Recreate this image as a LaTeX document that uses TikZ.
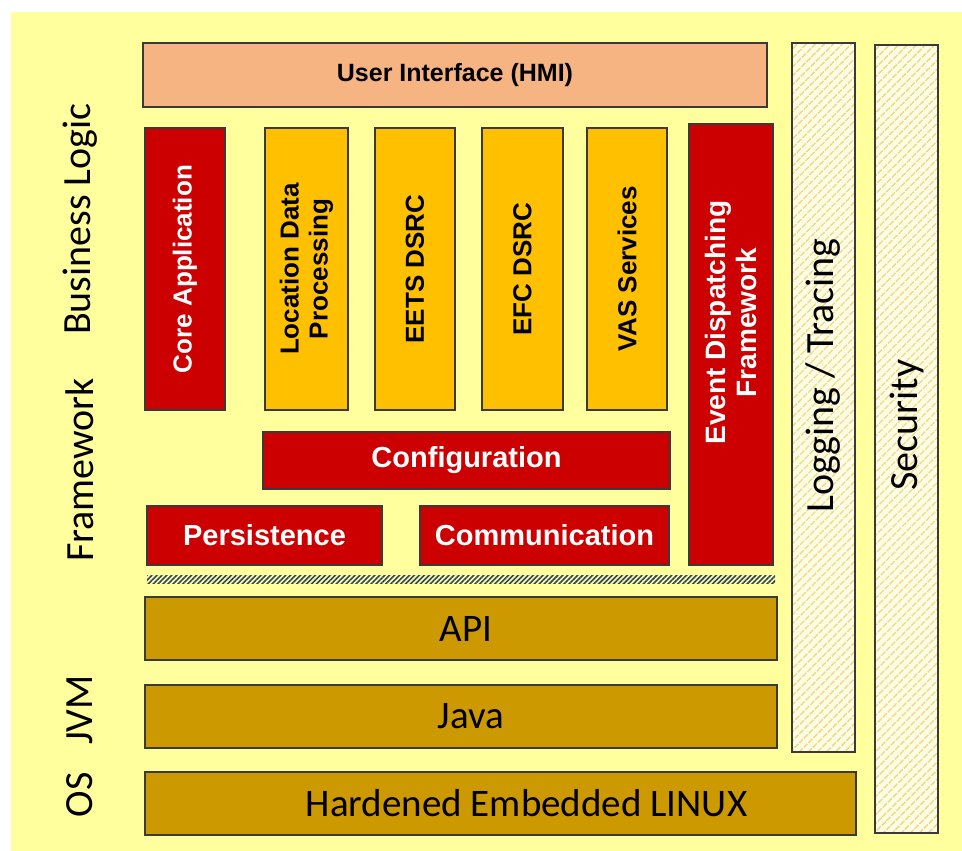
\documentclass[tikz,border=0pt]{standalone}
\usepackage{fontspec}
\setmainfont{Carlito}
\newfontfamily\arialfont{Liberation Sans}
\usetikzlibrary{patterns.meta}
\definecolor{bgyellow}{HTML}{FFFF9E}
\definecolor{hmiorange}{HTML}{F6B482}
\definecolor{corered}{HTML}{CC0000}
\definecolor{appamber}{HTML}{FFC000}
\definecolor{basegold}{HTML}{CC9900}
\definecolor{boxline}{HTML}{3A3A3A}
\definecolor{hatchbg}{HTML}{FFFCE6}
\definecolor{hatchline}{HTML}{EEDA80}
\definecolor{sepline}{HTML}{2F4466}
\tikzset{
    layer box/.style = {draw=boxline, line width=1.2pt, inner sep=0pt, align=center},
    red box/.style = {layer box, fill=corered, text=white, font=\arialfont\bfseries\fontsize{29}{29}\selectfont},
    red vbox/.style = {layer box, fill=corered, text=white, rotate=90, font=\arialfont\bfseries\fontsize{26}{29}\selectfont},
    app vbox/.style = {layer box, fill=appamber, rotate=90, font=\arialfont\bfseries\fontsize{26}{29}\selectfont},
    base box/.style = {layer box, fill=basegold, font=\fontsize{39}{39}\selectfont},
    side box/.style = {layer box, rotate=90, preaction={fill=hatchbg},
        pattern={Lines[angle=45, distance=6.5pt, line width=1.8pt]}, pattern color=hatchline,
        font=\fontsize{40}{40}\selectfont},
    layer label/.style = {rotate=90, font=\fontsize{40}{40}\selectfont},
}

\begin{document}
\begin{tikzpicture}[x=1pt, y=-1pt]
    \useasboundingbox (0,0) rectangle (962,851);
    \fill[bgyellow] (11,12) rectangle (962,851);

    % layer names on the left
    \node[layer label] (bl) at (80,219) {Business Logic};
    \node[layer label] (fw) at (80,470) {Framework};
    \node[layer label] (jvm) at (80,710) {JVM};
    \node[layer label] (os) at (80,795) {OS};

    % business logic
    \node[layer box, fill=hmiorange, minimum width=624pt, minimum height=64pt,
          font=\arialfont\bfseries\fontsize{25}{25}\selectfont] (hmi) at (455,75) {User Interface (HMI)};
    \node[red vbox, minimum width=282pt, minimum height=80pt] (core) at (185,269) {Core Application};
    \node[app vbox, minimum width=282pt, minimum height=83pt] (loc) at (306.5,269) {Location Data\\Processing};
    \node[app vbox, minimum width=282pt, minimum height=80pt] (eets) at (415,269) {EETS DSRC};
    \node[app vbox, minimum width=282pt, minimum height=81pt] (efc) at (522.5,269) {EFC DSRC};
    \node[app vbox, minimum width=282pt, minimum height=80pt] (vas) at (627,269) {VAS Services};
    \node[red vbox, minimum width=441pt, minimum height=84pt, font=\arialfont\bfseries\fontsize{28}{31}\selectfont]
        (event) at (731,344.5) {\hspace*{44pt}Event Dispatching\\\hspace*{44pt}Framework};

    % framework
    \node[red box, minimum width=407pt, minimum height=57pt] (config) at (466.5,460.5) {Configuration};
    \node[red box, minimum width=235pt, minimum height=59pt] (persist) at (264.5,535.5) {Persistence};
    \node[red box, minimum width=249pt, minimum height=59pt] (comm) at (544.5,535.5) {Communication};
    \node[minimum width=628pt, minimum height=8pt, inner sep=0pt, fill=white,
          pattern={Lines[angle=45, distance=3.5pt, line width=1.6pt]}, pattern color=sepline] (sep) at (461,579) {};

    % platform
    \node[base box, minimum width=632pt, minimum height=63pt] (api) at (461,628.5) {\hspace*{10pt}API};
    \node[base box, minimum width=632pt, minimum height=63pt] (java) at (461,716.5) {\hspace*{20pt}Java};
    \node[base box, minimum width=711pt, minimum height=63pt] (linux) at (500.5,803.5) {\hspace*{52pt}Hardened Embedded LINUX};

    % cross-cutting columns
    \node[side box, minimum width=709pt, minimum height=63pt] (log) at (823.5,397.5) {\hspace*{44pt}Logging / Tracing};
    \node[side box, minimum width=788pt, minimum height=63pt] (sec) at (906.5,439) {\hspace*{28pt}Security};
\end{tikzpicture}
\end{document}
